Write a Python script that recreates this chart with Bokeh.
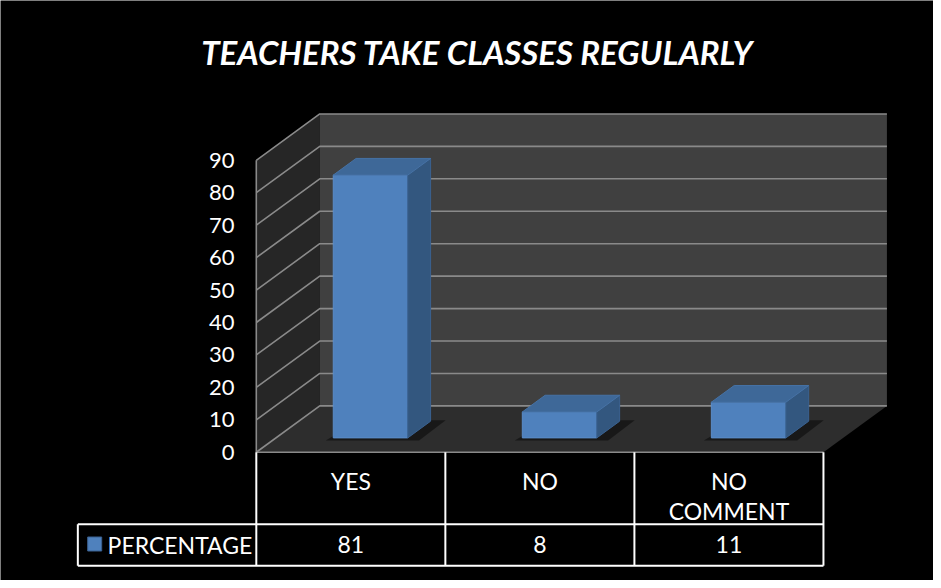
from bokeh.plotting import figure
from bokeh.models import Range1d
from bokeh.core.properties import value
from bokeh.embed import file_html
from bokeh.resources import INLINE

# ---------------- data ----------------
title_text = "TEACHERS TAKE CLASSES REGULARLY"
series_name = "PERCENTAGE"
categories = ["YES", "NO", "NO\nCOMMENT"]
percentages = [81, 8, 11]
y_ticks = [0, 10, 20, 30, 40, 50, 60, 70, 80, 90]

# ---------------- layout (reference pixels) ----------------
FIG_W, FIG_H = 933, 580
REF_W, REF_H = 941, 588
X0, Y0 = 258.0, 458.0          # front-left bottom corner of the plot floor
CW = 190.67                    # px per category (front plane)
VS = 3.289                     # px per value unit (front plane)
DEPTH_PX_X, DEPTH_PX_Y = 64.0, 47.0

N = len(categories)
YMAX = y_ticks[-1]
DDX = DEPTH_PX_X / CW
DDY = DEPTH_PX_Y / VS


def px(xp):
    return (xp - X0) / CW


def py(yp):
    return (Y0 - yp) / VS


FONT = value("Lato")

p = figure(width=FIG_W, height=FIG_H,
           x_range=Range1d(px(0), px(REF_W)),
           y_range=Range1d(py(REF_H), py(0)),
           output_backend="svg", toolbar_location=None, min_border=0)
p.axis.visible = False
p.grid.visible = False
p.outline_line_color = None
p.background_fill_color = "black"
p.border_fill_color = "black"

# walls and floor
p.patch([0, DDX, DDX, 0], [0, DDY, YMAX + DDY, YMAX], fill_color="#262626", line_color=None)
p.patch([DDX, N + DDX, N + DDX, DDX], [DDY, DDY, YMAX + DDY, YMAX + DDY],
        fill_color="#404040", line_color=None)
p.patch([0, N, N + DDX, DDX], [0, 0, DDY, DDY], fill_color="#2d2d2d", line_color=None)

GRID = "#8a8a8a"
p.multi_line([[0, DDX, N + DDX] for t in y_ticks],
             [[t, t + DDY, t + DDY] for t in y_ticks],
             line_color=GRID, line_width=1.6)
p.line([0, 0], [0, YMAX], line_color=GRID, line_width=1.6)
p.line([0, N], [0, 0], line_color=GRID, line_width=1.6)

# bars
F0, F1 = 0.31, 0.67
HW = 0.197
lefts, rights, bots, tops = [], [], [], []
side_xs, side_ys, top_xs, top_ys, sh_xs, sh_ys = [], [], [], [], [], []
for i, v in enumerate(percentages):
    c = i + 0.5
    l0, r0 = c - HW + F0 * DDX, c + HW + F0 * DDX
    l1, r1 = c - HW + F1 * DDX, c + HW + F1 * DDX
    b0, b1 = F0 * DDY, F1 * DDY
    lefts.append(l0); rights.append(r0); bots.append(b0); tops.append(v + b0)
    side_xs.append([r0, r1, r1, r0]); side_ys.append([b0, b1, v + b1, v + b0])
    top_xs.append([l0, r0, r1, l1]); top_ys.append([v + b0, v + b0, v + b1, v + b1])
    e = 0.04
    sh_xs.append([l0 - e, r0 + 0.06, r1 + 0.08, l1 + 0.02])
    sh_ys.append([b0 - 0.8, b0 - 0.8, b1 + 0.3, b1 + 0.3])

p.patches(sh_xs, sh_ys, fill_color="black", fill_alpha=0.45, line_color=None)
p.quad(left=lefts, right=rights, bottom=bots, top=tops,
       fill_color="#4F81BD", line_color="#5a8cc8", line_width=1)
p.patches(side_xs, side_ys, fill_color="#33577F", line_color="#3a6190", line_width=1)
p.patches(top_xs, top_ys, fill_color="#3E6898", line_color="#4672a5", line_width=1)

# y tick labels
p.text(x=[px(236)] * len(y_ticks), y=y_ticks, text=[str(t) for t in y_ticks],
       text_color="white", text_font=FONT, text_font_size="22px",
       text_align="right", text_baseline="middle")

# data table
W = "white"
p.multi_line([[i, i] for i in range(N + 1)], [[0, py(573)] for i in range(N + 1)],
             line_color=W, line_width=2)
p.multi_line([[px(78), N], [px(78), N], [px(78), px(78)]],
             [[py(531), py(531)], [py(573), py(573)], [py(531), py(573)]],
             line_color=W, line_width=2)

lx, ly, lt = [], [], []
for i, cat in enumerate(categories):
    for k, line in enumerate(cat.split("\n")):
        lx.append(i + 0.5); ly.append(py(487 + 31 * k)); lt.append(line)
p.text(x=lx, y=ly, text=lt, text_color=W, text_font=FONT, text_font_size="23px",
       text_align="center", text_baseline="middle")
p.text(x=[i + 0.5 for i in range(N)], y=[py(552)] * N, text=[str(v) for v in percentages],
       text_color=W, text_font=FONT, text_font_size="23px",
       text_align="center", text_baseline="middle")
p.rect(x=[px(95)], y=[py(551)], width=14, height=14, width_units="screen",
       height_units="screen", fill_color="#4F81BD", line_color="#3a6190")
p.text(x=[px(108)], y=[py(552)], text=[series_name], text_color=W, text_font=FONT,
       text_font_size="23px", text_align="left", text_baseline="middle")

# title
p.text(x=[px(481)], y=[py(52)], text=[title_text], text_color=W, text_font=FONT,
       text_font_size="33px", text_font_style="bold italic",
       text_align="center", text_baseline="middle")

open("out.html", "w").write(file_html(p, INLINE))
